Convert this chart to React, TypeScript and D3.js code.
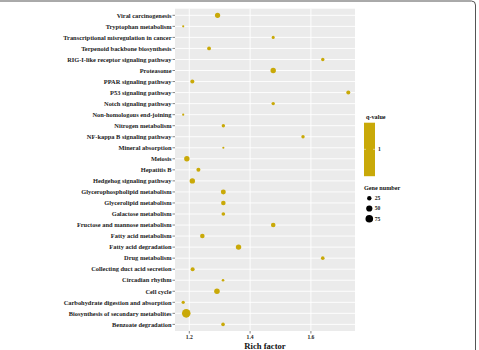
import * as d3 from 'd3';

const W = 479;
const H = 350;

const PANEL = { left: 175, right: 355, top: 8.7, bottom: 331 };

const pathways = [
  'Viral carcinogenesis',
  'Tryptophan metabolism',
  'Transcriptional misregulation in cancer',
  'Terpenoid backbone biosynthesis',
  'RIG-I-like receptor signaling pathway',
  'Proteasome',
  'PPAR signaling pathway',
  'P53 signaling pathway',
  'Notch signaling pathway',
  'Non-homologous end-joining',
  'Nitrogen metabolism',
  'NF-kappa B signaling pathway',
  'Mineral absorption',
  'Meiosis',
  'Hepatitis B',
  'Hedgehog signaling pathway',
  'Glycerophospholipid metabolism',
  'Glycerolipid metabolism',
  'Galactose metabolism',
  'Fructose and mannose metabolism',
  'Fatty acid metabolism',
  'Fatty acid degradation',
  'Drug metabolism',
  'Collecting duct acid secretion',
  'Circadian rhythm',
  'Cell cycle',
  'Carbohydrate digestion and absorption',
  'Biosynthesis of secondary metabolites',
  'Benzoate degradation',
];

const richFactor = [
  1.293, 1.18, 1.476, 1.265, 1.639, 1.476, 1.21, 1.723, 1.476, 1.18,
  1.312, 1.574, 1.312, 1.192, 1.23, 1.21, 1.312, 1.312, 1.312, 1.476,
  1.243, 1.362, 1.639, 1.211, 1.311, 1.291, 1.18, 1.19, 1.311,
];

const geneNumber = [
  35, 6, 12, 19, 15, 38, 21, 21, 15, 6,
  15, 15, 6, 38, 21, 38, 32, 27, 17, 27,
  27, 38, 17, 21, 9, 40, 14, 95, 17,
];

const xTicks = [1.2, 1.4, 1.6];
const sizeBreaks = [25, 50, 75];
const qValueLabel = '1';

const GOLD = '#C9A908';

export default function App() {
  const x = d3.scaleLinear()
    .domain([1.153, 1.745])
    .range([PANEL.left, PANEL.right]);

  const y = d3.scalePoint<string>()
    .domain(pathways)
    .range([PANEL.top, PANEL.bottom])
    .padding(0.6);

  const r = d3.scaleSqrt().domain([0, 100]).range([0, 4.4]);

  const legendX = 364;

  return (
    <svg
      width={W}
      height={H}
      viewBox={`0 0 ${W} ${H}`}
      style={{ position: 'absolute', left: 0, top: 0, background: '#fff' }}
      fontFamily="'Liberation Serif', 'Times New Roman', serif"
    >
      {/* outer frame */}
      <rect x={-10} y={1} width={485.5} height={400} rx={4} fill="none" stroke="#555" strokeWidth={1} />

      {/* panel */}
      <rect
        x={PANEL.left}
        y={PANEL.top}
        width={PANEL.right - PANEL.left}
        height={PANEL.bottom - PANEL.top}
        fill="#EBEBEB"
      />
      {pathways.map((p) => (
        <line key={p} x1={PANEL.left} x2={PANEL.right} y1={y(p)} y2={y(p)} stroke="#fff" strokeWidth={0.9} />
      ))}
      {xTicks.map((t) => (
        <line key={t} x1={x(t)} x2={x(t)} y1={PANEL.top} y2={PANEL.bottom} stroke="#fff" strokeWidth={0.9} />
      ))}

      {/* points */}
      {pathways.map((p, i) => (
        <circle key={p} cx={x(richFactor[i])} cy={y(p)} r={r(geneNumber[i])} fill={GOLD} />
      ))}

      {/* y axis */}
      {pathways.map((p) => (
        <g key={p} transform={`translate(${PANEL.left},${y(p)})`}>
          <line x1={-2.5} x2={0} stroke="#333" strokeWidth={0.6} />
          <text x={-3.5} dy="0.35em" textAnchor="end" fontSize={6.4} fontWeight="bold" fill="#222">
            {p}
          </text>
        </g>
      ))}

      {/* x axis */}
      {xTicks.map((t) => (
        <g key={t} transform={`translate(${x(t)},${PANEL.bottom})`}>
          <line y1={0} y2={2.5} stroke="#333" strokeWidth={0.6} />
          <text y={7.8} textAnchor="middle" fontSize={5.6} fontWeight="bold" fill="#222">
            {t.toFixed(1)}
          </text>
        </g>
      ))}
      <text
        x={(PANEL.left + PANEL.right) / 2}
        y={348.5}
        textAnchor="middle"
        fontSize={8.6}
        fontWeight="bold"
        fill="#111"
      >
        Rich factor
      </text>

      {/* q-value colour bar */}
      <text x={legendX + 2} y={119} fontSize={6.2} fontWeight="bold" fill="#111">q-value</text>
      <rect x={legendX} y={122.7} width={11} height={53.5} fill={GOLD} />
      <line x1={legendX} x2={legendX + 2} y1={149.3} y2={149.3} stroke="#fff" strokeWidth={0.5} />
      <line x1={legendX + 9} x2={legendX + 11} y1={149.3} y2={149.3} stroke="#fff" strokeWidth={0.5} />
      <text x={legendX + 14} y={149.3} dy="0.35em" fontSize={5.6} fontWeight="bold" fill="#222">
        {qValueLabel}
      </text>

      {/* gene number size legend */}
      <text x={legendX} y={189.5} fontSize={6.2} fontWeight="bold" fill="#111">Gene number</text>
      {sizeBreaks.map((b, i) => (
        <g key={b} transform={`translate(${legendX + 5.3},${198.3 + i * 10.2})`}>
          <circle r={r(b)} fill="#000" />
          <text x={5.5} dy="0.35em" fontSize={5.6} fontWeight="bold" fill="#222">{b}</text>
        </g>
      ))}
    </svg>
  );
}
